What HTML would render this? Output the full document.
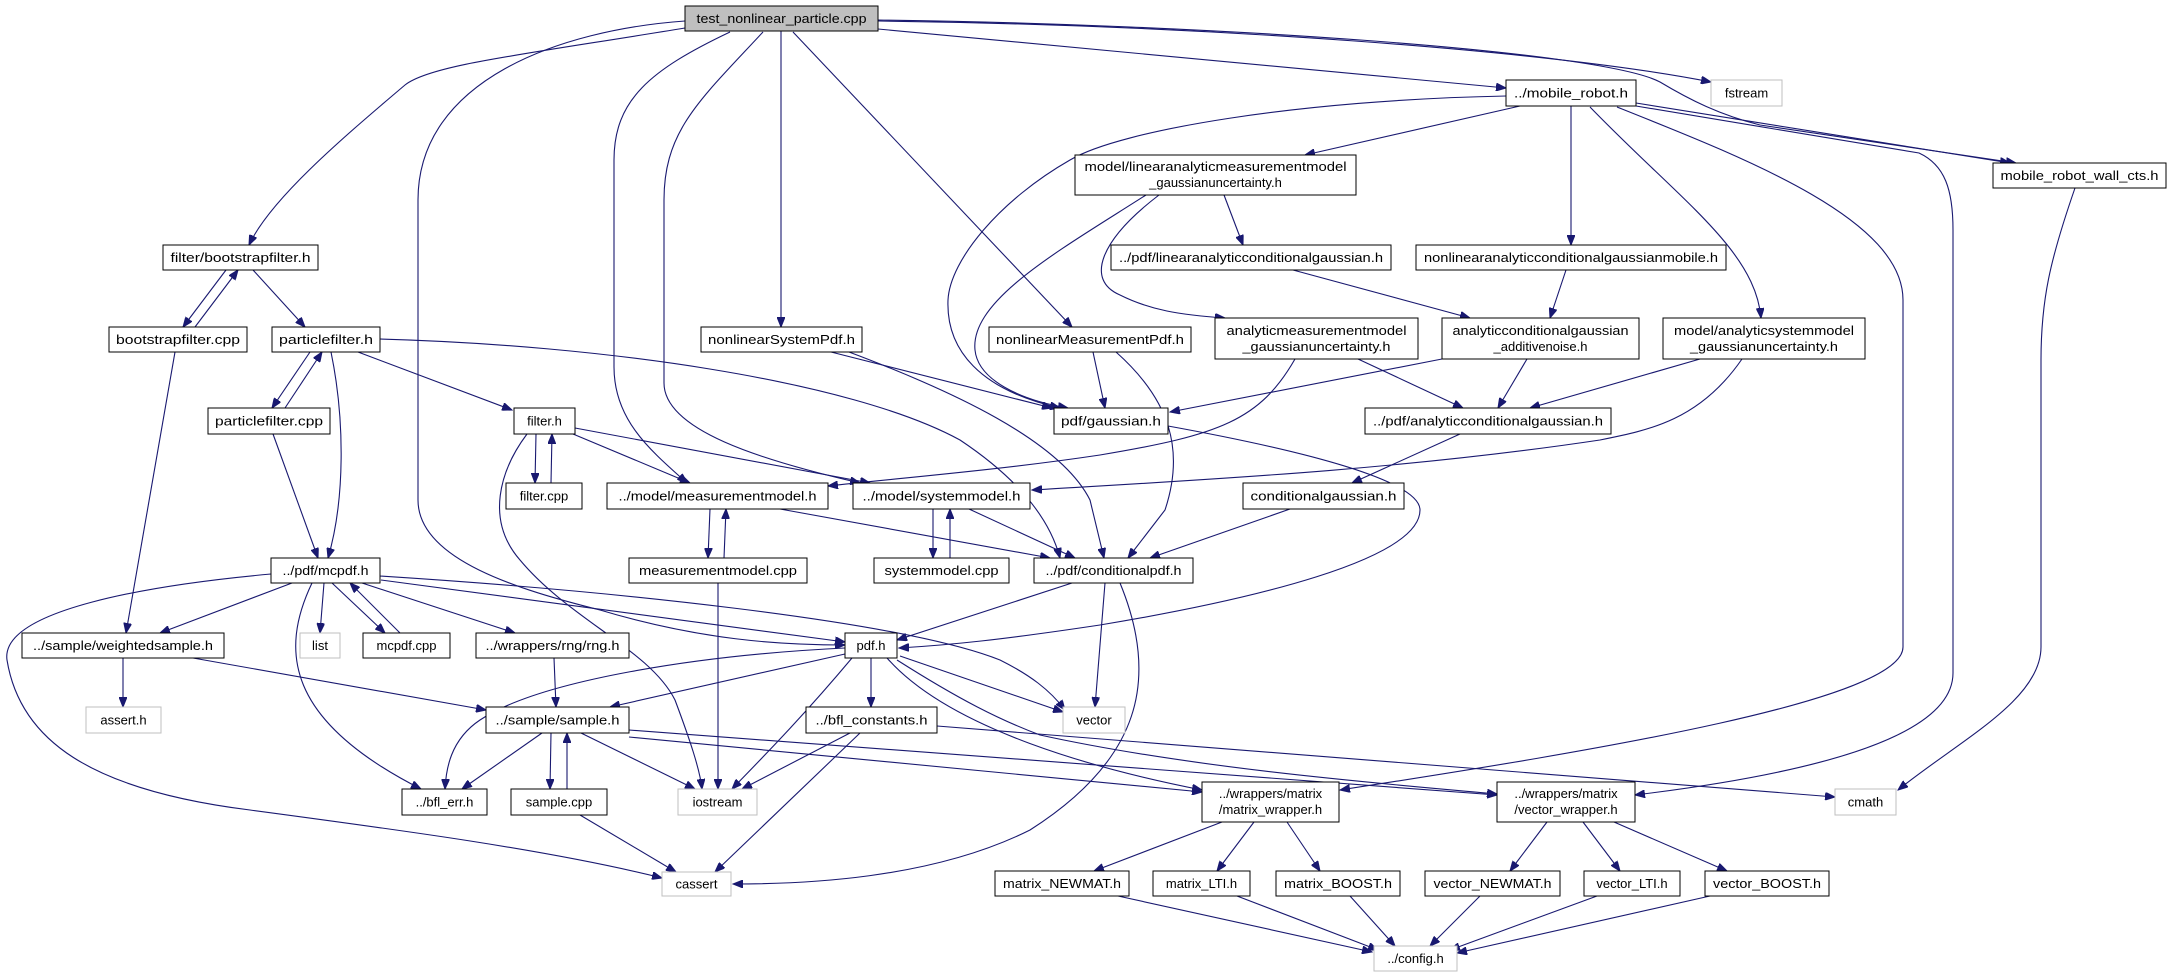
<!DOCTYPE html>
<html><head><meta charset="utf-8"><style>
html,body{margin:0;padding:0;background:#fff;}
svg{display:block;}
text{font-family:"Liberation Sans","DejaVu Sans",sans-serif;font-size:13px;fill:#000;text-anchor:middle;}
.n{fill:#fff;stroke:#000;stroke-width:1;}
.g{fill:#fff;stroke:#bfbfbf;stroke-width:1;}
.e{fill:none;stroke:#191970;stroke-width:1.1;marker-end:url(#a);}
</style></head><body>
<svg width="2172" height="977" viewBox="0 0 2172 977" xmlns="http://www.w3.org/2000/svg">
<defs><marker id="a" markerUnits="userSpaceOnUse" markerWidth="11" markerHeight="8" refX="10" refY="4" orient="auto"><path d="M0,0 L10,4 L0,8 z" fill="#191970" stroke="#191970"/></marker></defs>
<g>
<path class="e" d="M685,28 C520,55 430,65 405,85 C340,140 270,200 249,245"/>
<path class="e" d="M685,21 C560,30 418,80 418,200 L418,500 C418,560 520,590 600,610 C700,640 780,645 845,645"/>
<path class="e" d="M730,32 C650,70 614,100 614,160 L614,367 C614,420 650,450 687,483"/>
<path class="e" d="M763,32 C700,100 664,130 664,200 L664,383 C664,430 760,460 860,483"/>
<path class="e" d="M781,31 L781,327"/>
<path class="e" d="M793,32 L1072,327"/>
<path class="e" d="M878,29 L1506,88"/>
<path class="e" d="M878,21 C1200,25 1550,50 1711,82"/>
<path class="e" d="M878,20 C1200,24 1600,50 1660,82 C1690,100 1720,115 1760,125 L2016,163"/>
<path class="e" d="M1636,103 L2010,163"/>
<path class="e" d="M1636,106 L1919,153 C1945,165 1953,190 1953,230 L1953,673 C1953,740 1800,775 1635,795"/>
<path class="e" d="M1617,107 C1750,160 1903,220 1903,300 L1903,647 C1903,700 1600,750 1340,790"/>
<path class="e" d="M1520,106 L1305,155"/>
<path class="e" d="M1571,106 L1571,245"/>
<path class="e" d="M1590,107 C1680,200 1755,250 1761,318"/>
<path class="e" d="M1506,96 C1300,100 1120,130 1070,160 C1000,200 950,260 948,300 C946,350 980,390 1060,408"/>
<path class="e" d="M1146,195 C1060,250 970,300 975,350 C978,380 1020,400 1068,408"/>
<path class="e" d="M1159,195 C1100,240 1085,280 1120,295 C1150,310 1180,315 1225,318"/>
<path class="e" d="M1224,195 L1243,245"/>
<path class="e" d="M1293,270 L1470,318"/>
<path class="e" d="M1566,270 L1550,318"/>
<path class="e" d="M1358,359 L1463,408"/>
<path class="e" d="M1295,359 C1260,420 1220,435 1100,455 C1000,470 900,478 828,486"/>
<path class="e" d="M1442,359 L1170,412"/>
<path class="e" d="M1527,359 L1498,408"/>
<path class="e" d="M1700,359 L1530,408"/>
<path class="e" d="M1742,359 C1700,420 1650,430 1600,440 C1400,470 1200,480 1032,490"/>
<path class="e" d="M1460,434 L1352,483"/>
<path class="e" d="M1290,509 L1150,558"/>
<path class="e" d="M1168,426 C1300,450 1420,480 1420,510 C1420,560 1250,600 1100,625 C1000,640 950,645 899,648"/>
<path class="e" d="M831,352 L1052,408"/>
<path class="e" d="M849,352 C950,390 1060,440 1090,500 L1104,558"/>
<path class="e" d="M1093,352 L1105,408"/>
<path class="e" d="M1116,352 C1170,400 1185,450 1165,510 L1128,558"/>
<path class="e" d="M226,270 L183,327"/>
<path class="e" d="M195,327 L238,270"/>
<path class="e" d="M253,270 L305,327"/>
<path class="e" d="M175,352 L126,633"/>
<path class="e" d="M310,352 L272,408"/>
<path class="e" d="M285,408 L322,352"/>
<path class="e" d="M358,352 L512,410"/>
<path class="e" d="M331,352 C345,420 345,500 328,558"/>
<path class="e" d="M380,339 C600,345 850,380 960,440 C1020,480 1050,520 1060,558"/>
<path class="e" d="M273,434 L318,558"/>
<path class="e" d="M536,434 L535,483"/>
<path class="e" d="M551,483 L552,434"/>
<path class="e" d="M573,434 L690,483"/>
<path class="e" d="M575,428 L870,483"/>
<path class="e" d="M527,434 C500,470 485,520 520,560 C570,620 650,650 675,700 C690,740 700,770 702,789"/>
<path class="e" d="M710,509 L708,558"/>
<path class="e" d="M724,558 L726,509"/>
<path class="e" d="M780,509 L1050,558"/>
<path class="e" d="M718,583 L718,789"/>
<path class="e" d="M933,509 L933,558"/>
<path class="e" d="M950,558 L950,509"/>
<path class="e" d="M969,509 L1075,558"/>
<path class="e" d="M1072,583 L897,640"/>
<path class="e" d="M1105,583 L1095,707"/>
<path class="e" d="M1120,583 C1160,680 1140,760 1030,830 C930,880 800,884 733,884"/>
<path class="e" d="M292,583 L160,633"/>
<path class="e" d="M324,583 L320,633"/>
<path class="e" d="M332,583 L385,633"/>
<path class="e" d="M400,633 L350,583"/>
<path class="e" d="M362,583 L515,633"/>
<path class="e" d="M381,580 L845,642"/>
<path class="e" d="M380,576 C600,590 900,620 1000,660 C1030,675 1050,690 1065,710"/>
<path class="e" d="M312,583 C280,650 285,720 421,789"/>
<path class="e" d="M271,574 C150,585 0,610 7,660 C20,740 90,790 250,810 C400,830 550,850 662,878"/>
<path class="e" d="M123,658 L123,707"/>
<path class="e" d="M193,658 L486,710"/>
<path class="e" d="M554,658 L556,707"/>
<path class="e" d="M845,654 L610,707"/>
<path class="e" d="M845,648 C700,655 540,680 480,720 C450,740 446,770 445,789"/>
<path class="e" d="M852,658 C800,720 760,760 732,789"/>
<path class="e" d="M871,658 L871,707"/>
<path class="e" d="M900,656 L1063,712"/>
<path class="e" d="M887,658 C950,730 1100,770 1202,790"/>
<path class="e" d="M897,660 C960,700 1000,720 1040,735 C1200,770 1400,785 1497,794"/>
<path class="e" d="M542,733 L462,789"/>
<path class="e" d="M551,733 L550,789"/>
<path class="e" d="M567,789 L567,733"/>
<path class="e" d="M581,733 L695,789"/>
<path class="e" d="M629,737 L1202,792"/>
<path class="e" d="M629,730 L1497,795"/>
<path class="e" d="M580,815 L676,872"/>
<path class="e" d="M850,733 L742,789"/>
<path class="e" d="M860,733 L715,872"/>
<path class="e" d="M937,726 L1835,797"/>
<path class="e" d="M1222,822 L1094,871"/>
<path class="e" d="M1254,822 L1217,871"/>
<path class="e" d="M1287,822 L1320,871"/>
<path class="e" d="M1547,822 L1510,871"/>
<path class="e" d="M1583,822 L1620,871"/>
<path class="e" d="M1614,822 L1727,871"/>
<path class="e" d="M1118,896 L1372,952"/>
<path class="e" d="M1237,896 L1378,950"/>
<path class="e" d="M1350,896 L1395,946"/>
<path class="e" d="M1480,896 L1430,946"/>
<path class="e" d="M1597,896 L1450,950"/>
<path class="e" d="M1710,896 L1457,953"/>
<path class="e" d="M2075,188 C2050,260 2041,300 2041,360 L2041,647 C2041,700 1960,740 1898,790"/>
</g>
<g>
<rect x="685" y="6" width="193" height="25" style="fill:#bfbfbf;stroke:#000"/><text x="781.5" y="23" textLength="170" lengthAdjust="spacingAndGlyphs">test_nonlinear_particle.cpp</text>
<rect class="g" x="1711" y="80" width="71" height="26"/><text x="1746.5" y="97.5">fstream</text>
<rect class="n" x="1506" y="80" width="130" height="26"/><text x="1571" y="97.5" textLength="114" lengthAdjust="spacingAndGlyphs">../mobile_robot.h</text>
<rect class="n" x="1075" y="155" width="281" height="40"/><text x="1215.5" y="171" textLength="262" lengthAdjust="spacingAndGlyphs">model/linearanalyticmeasurementmodel</text><text x="1215.5" y="187">_gaussianuncertainty.h</text>
<rect class="n" x="1993" y="163" width="173" height="25"/><text x="2079.5" y="180" textLength="158" lengthAdjust="spacingAndGlyphs">mobile_robot_wall_cts.h</text>
<rect class="n" x="163" y="245" width="155" height="25"/><text x="240.5" y="262" textLength="140" lengthAdjust="spacingAndGlyphs">filter/bootstrapfilter.h</text>
<rect class="n" x="1111" y="245" width="280" height="25"/><text x="1251" y="262" textLength="264" lengthAdjust="spacingAndGlyphs">../pdf/linearanalyticconditionalgaussian.h</text>
<rect class="n" x="1416" y="245" width="310" height="25"/><text x="1571" y="262" textLength="294" lengthAdjust="spacingAndGlyphs">nonlinearanalyticconditionalgaussianmobile.h</text>
<rect class="n" x="109" y="327" width="138" height="25"/><text x="178" y="344" textLength="124" lengthAdjust="spacingAndGlyphs">bootstrapfilter.cpp</text>
<rect class="n" x="272" y="327" width="108" height="25"/><text x="326" y="344" textLength="94" lengthAdjust="spacingAndGlyphs">particlefilter.h</text>
<rect class="n" x="701" y="327" width="161" height="25"/><text x="781.5" y="344" textLength="147" lengthAdjust="spacingAndGlyphs">nonlinearSystemPdf.h</text>
<rect class="n" x="989" y="327" width="202" height="25"/><text x="1090" y="344" textLength="188" lengthAdjust="spacingAndGlyphs">nonlinearMeasurementPdf.h</text>
<rect class="n" x="1215" y="318" width="203" height="41"/><text x="1316.5" y="335" textLength="180" lengthAdjust="spacingAndGlyphs">analyticmeasurementmodel</text><text x="1316.5" y="351" textLength="148" lengthAdjust="spacingAndGlyphs">_gaussianuncertainty.h</text>
<rect class="n" x="1442" y="318" width="197" height="41"/><text x="1540.5" y="335" textLength="176" lengthAdjust="spacingAndGlyphs">analyticconditionalgaussian</text><text x="1540.5" y="351">_additivenoise.h</text>
<rect class="n" x="1663" y="318" width="202" height="41"/><text x="1764" y="335" textLength="180" lengthAdjust="spacingAndGlyphs">model/analyticsystemmodel</text><text x="1764" y="351" textLength="148" lengthAdjust="spacingAndGlyphs">_gaussianuncertainty.h</text>
<rect class="n" x="208" y="408" width="122" height="26"/><text x="269" y="425.5" textLength="108" lengthAdjust="spacingAndGlyphs">particlefilter.cpp</text>
<rect class="n" x="514" y="408" width="61" height="26"/><text x="544.5" y="425.5">filter.h</text>
<rect class="n" x="1054" y="408" width="114" height="26"/><text x="1111" y="425.5" textLength="100" lengthAdjust="spacingAndGlyphs">pdf/gaussian.h</text>
<rect class="n" x="1365" y="408" width="246" height="26"/><text x="1488" y="425.5" textLength="230" lengthAdjust="spacingAndGlyphs">../pdf/analyticconditionalgaussian.h</text>
<rect class="n" x="506" y="483" width="76" height="26"/><text x="544" y="500.5">filter.cpp</text>
<rect class="n" x="607" y="483" width="221" height="26"/><text x="717.5" y="500.5" textLength="198" lengthAdjust="spacingAndGlyphs">../model/measurementmodel.h</text>
<rect class="n" x="853" y="483" width="177" height="26"/><text x="941.5" y="500.5" textLength="158" lengthAdjust="spacingAndGlyphs">../model/systemmodel.h</text>
<rect class="n" x="1243" y="483" width="161" height="26"/><text x="1323.5" y="500.5" textLength="146" lengthAdjust="spacingAndGlyphs">conditionalgaussian.h</text>
<rect class="n" x="271" y="558" width="109" height="25"/><text x="325.5" y="575" textLength="86" lengthAdjust="spacingAndGlyphs">../pdf/mcpdf.h</text>
<rect class="n" x="629" y="558" width="178" height="25"/><text x="718" y="575" textLength="158" lengthAdjust="spacingAndGlyphs">measurementmodel.cpp</text>
<rect class="n" x="874" y="558" width="135" height="25"/><text x="941.5" y="575" textLength="114" lengthAdjust="spacingAndGlyphs">systemmodel.cpp</text>
<rect class="n" x="1034" y="558" width="159" height="25"/><text x="1113.5" y="575" textLength="136" lengthAdjust="spacingAndGlyphs">../pdf/conditionalpdf.h</text>
<rect class="n" x="22" y="633" width="202" height="25"/><text x="123" y="650" textLength="180" lengthAdjust="spacingAndGlyphs">../sample/weightedsample.h</text>
<rect class="g" x="300" y="633" width="40" height="25"/><text x="320" y="650">list</text>
<rect class="n" x="363" y="633" width="87" height="25"/><text x="406.5" y="650">mcpdf.cpp</text>
<rect class="n" x="476" y="633" width="153" height="25"/><text x="552.5" y="650" textLength="134" lengthAdjust="spacingAndGlyphs">../wrappers/rng/rng.h</text>
<rect class="n" x="845" y="633" width="52" height="25"/><text x="871" y="650">pdf.h</text>
<rect class="g" x="86" y="707" width="75" height="26"/><text x="123.5" y="724.5">assert.h</text>
<rect class="n" x="486" y="707" width="143" height="26"/><text x="557.5" y="724.5" textLength="124" lengthAdjust="spacingAndGlyphs">../sample/sample.h</text>
<rect class="n" x="806" y="707" width="131" height="26"/><text x="871.5" y="724.5" textLength="112" lengthAdjust="spacingAndGlyphs">../bfl_constants.h</text>
<rect class="g" x="1063" y="707" width="62" height="26"/><text x="1094" y="724.5">vector</text>
<rect class="n" x="402" y="789" width="85" height="26"/><text x="444.5" y="806.5">../bfl_err.h</text>
<rect class="n" x="511" y="789" width="96" height="26"/><text x="559" y="806.5">sample.cpp</text>
<rect class="g" x="678" y="789" width="79" height="26"/><text x="717.5" y="806.5">iostream</text>
<rect class="n" x="1202" y="782" width="137" height="40"/><text x="1270.5" y="798">../wrappers/matrix</text><text x="1270.5" y="814">/matrix_wrapper.h</text>
<rect class="n" x="1497" y="782" width="138" height="40"/><text x="1566" y="798">../wrappers/matrix</text><text x="1566" y="814">/vector_wrapper.h</text>
<rect class="g" x="1835" y="789" width="61" height="26"/><text x="1865.5" y="806.5">cmath</text>
<rect class="g" x="662" y="872" width="69" height="24"/><text x="696.5" y="888.5">cassert</text>
<rect class="n" x="995" y="871" width="134" height="25"/><text x="1062" y="888" textLength="118" lengthAdjust="spacingAndGlyphs">matrix_NEWMAT.h</text>
<rect class="n" x="1153" y="871" width="97" height="25"/><text x="1201.5" y="888">matrix_LTI.h</text>
<rect class="n" x="1276" y="871" width="124" height="25"/><text x="1338" y="888" textLength="108" lengthAdjust="spacingAndGlyphs">matrix_BOOST.h</text>
<rect class="n" x="1425" y="871" width="135" height="25"/><text x="1492.5" y="888" textLength="118" lengthAdjust="spacingAndGlyphs">vector_NEWMAT.h</text>
<rect class="n" x="1584" y="871" width="96" height="25"/><text x="1632" y="888">vector_LTI.h</text>
<rect class="n" x="1705" y="871" width="124" height="25"/><text x="1767" y="888" textLength="108" lengthAdjust="spacingAndGlyphs">vector_BOOST.h</text>
<rect class="g" x="1374" y="946" width="83" height="25"/><text x="1415.5" y="963">../config.h</text>
</g>
</svg>
</body></html>
